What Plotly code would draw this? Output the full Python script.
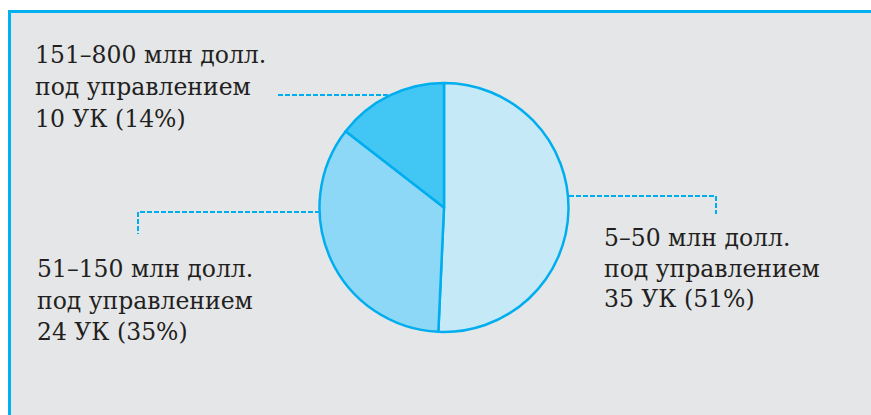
import plotly.graph_objects as go

W, H = 871, 415

# Data
ranges = ["5–50", "51–150", "151–800"]
counts = [35, 24, 10]
shares = [51, 35, 14]
colors = ["#c6e9f8", "#8dd8f6", "#42c6f3"]
line_blue = "#00aeef"
panel_gray = "#e5e6e8"
border_blue = "#00b0f0"

def px(x):
    return x / W

def py(y):
    return 1 - y / H

fig = go.Figure()
fig.add_trace(go.Pie(
    values=counts,
    labels=ranges,
    sort=False,
    direction="clockwise",
    rotation=0,
    marker=dict(colors=colors, line=dict(color=line_blue, width=2.5)),
    textinfo="none",
    hoverinfo="label+value+percent",
    showlegend=False,
    domain=dict(x=[px(319.5), px(568.5)], y=[py(332), py(83)]),
))

shapes = []
nol = dict(width=0, color="rgba(0,0,0,0)")
# white page margins above and left of the panel (page background is panel gray)
shapes.append(dict(type="rect", xref="paper", yref="paper", x0=-0.01, x1=1.01, y0=py(10), y1=1.01,
                   fillcolor="white", line=nol, layer="below"))
shapes.append(dict(type="rect", xref="paper", yref="paper", x0=-0.01, x1=px(8), y0=-0.01, y1=1.01,
                   fillcolor="white", line=nol, layer="below"))
# blue border top and left as filled bands
shapes.append(dict(type="rect", xref="paper", yref="paper", x0=px(8), x1=1.01, y0=py(13), y1=py(10),
                   fillcolor=border_blue, line=nol, layer="below"))
shapes.append(dict(type="rect", xref="paper", yref="paper", x0=px(8), x1=px(11), y0=-0.01, y1=py(10),
                   fillcolor=border_blue, line=nol, layer="below"))

dash = dict(color=line_blue, width=2, dash="5px,2px")
# leaders
leaders = [
    [(569, 196), (716, 196), (716, 214)],
    [(320, 212), (138, 212), (138, 234)],
    [(388, 95), (278, 95)],
]
for pts in leaders:
    for (xa, ya), (xb, yb) in zip(pts[:-1], pts[1:]):
        shapes.append(dict(type="line", xref="paper", yref="paper",
                           x0=px(xa), y0=py(ya), x1=px(xb), y1=py(yb), line=dash))

fig.update_layout(shapes=shapes)

# labels: (left x, baselines)
label_pos = [
    (602, [246, 276.5, 307]),
    (35, [277, 308.5, 340]),
    (33, [63, 95, 127]),
]
fs = 23.5
for i, (lx, bases) in enumerate(label_pos):
    lines = [f"{ranges[i]} млн долл.", "под управлением", f"{counts[i]} УК ({shares[i]}%)"]
    for txt, b in zip(lines, bases):
        fig.add_annotation(x=px(lx), y=py(b - 0.33 * fs), xref="paper", yref="paper",
                           text=txt, showarrow=False, xanchor="left", yanchor="middle",
                           font=dict(family="DejaVu Serif", size=fs, color="#231f20"))

fig.update_layout(
    width=W, height=H,
    margin=dict(l=0, r=0, t=0, b=0),
    paper_bgcolor=panel_gray,
    plot_bgcolor=panel_gray,
)

fig.write_html("out.html",
               config={"displayModeBar": False},
               post_script="document.body.style.margin='0';document.body.style.padding='0';document.body.style.overflow='hidden';document.body.style.background='" + panel_gray + "';")
